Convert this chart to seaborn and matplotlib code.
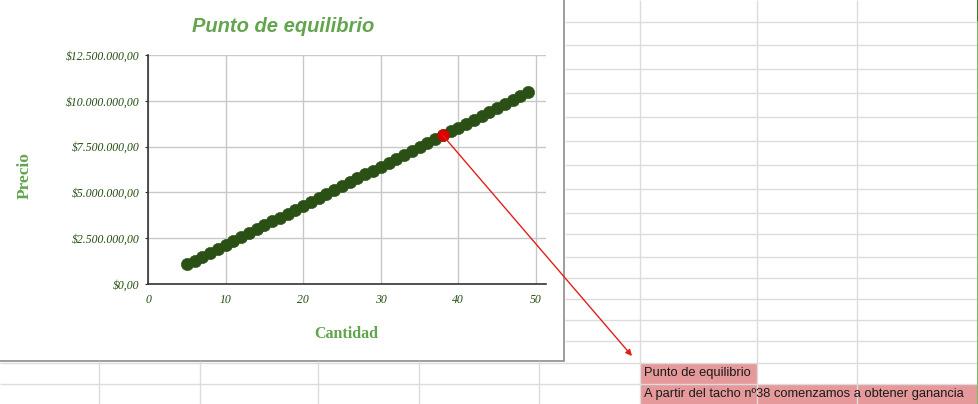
import matplotlib
matplotlib.use("Agg")
import matplotlib.pyplot as plt
from matplotlib.patches import Rectangle
import seaborn as sns
import pandas as pd

# ---- data ----
cantidad = [5, 6, 7, 8, 9, 10, 11, 12, 13, 14, 15, 16, 17, 18, 19, 20, 21, 22, 23, 24,
            25, 26, 27, 28, 29, 30, 31, 32, 33, 34, 35, 36, 37, 38, 39, 40, 41, 42, 43,
            44, 45, 46, 47, 48, 49]
precio = [1067500, 1281000, 1494500, 1708000, 1921500, 2135000, 2348500, 2562000,
          2775500, 2989000, 3202500, 3416000, 3629500, 3843000, 4056500, 4270000,
          4483500, 4697000, 4910500, 5124000, 5337500, 5551000, 5764500, 5978000,
          6191500, 6405000, 6618500, 6832000, 7045500, 7259000, 7472500, 7686000,
          7899500, 8113000, 8326500, 8540000, 8753500, 8967000, 9180500, 9394000,
          9607500, 9821000, 10034500, 10248000, 10461500]
equilibrio_cantidad = 38
equilibrio_precio = 8113000
y_ticks = [0, 2500000, 5000000, 7500000, 10000000, 12500000]
y_tick_labels = ["$0,00", "$2.500.000,00", "$5.000.000,00", "$7.500.000,00",
                 "$10.000.000,00", "$12.500.000,00"]
x_ticks = [0, 10, 20, 30, 40, 50]
x_tick_labels = ["0", "10", "20", "30", "40", "50"]
titulo = "Punto de equilibrio"
nota_1 = "Punto de equilibrio"
nota_2 = "A partir del tacho nº38 comenzamos a obtener ganancia"

sns.set_style("white")
plt.rcParams["font.family"] = ["Liberation Sans", "DejaVu Sans"]

W, H = 979, 404
fig = plt.figure(figsize=(W / 100, H / 100), dpi=100)
fig.patch.set_facecolor("white")

# ---- spreadsheet background (pixel coordinates) ----
bg = fig.add_axes([0, 0, 1, 1], zorder=0)
bg.set_xlim(0, W)
bg.set_ylim(H, 0)
bg.axis("off")
grid_c = "#dcdcdc"
rows_right = [22, 45, 69, 93, 117, 141, 165, 189, 213, 234, 257, 278, 299, 320, 341]
for yy in rows_right:
    bg.plot([565, 978], [yy, yy], color=grid_c, lw=1.0, solid_capstyle="butt")
for yy in [362.5, 383.5]:
    bg.plot([0, 978], [yy, yy], color=grid_c, lw=1.0, solid_capstyle="butt")
for xx in [640, 757, 857]:
    bg.plot([xx, xx], [0, H], color=grid_c, lw=1.0, solid_capstyle="butt")
for xx in [99, 200, 318, 419, 539]:
    bg.plot([xx, xx], [361, H], color=grid_c, lw=1.0, solid_capstyle="butt")
bg.plot([978, 978], [0, 22], color="#3a7a28", lw=1.5)
bg.plot([978, 978], [22, H], color="#7dbb6a", lw=1.5)

# chart area
bg.add_patch(Rectangle((-2, -2), 566.5, 362.5, facecolor="white", edgecolor="#8c8c8c", lw=1.2))

# note boxes
box_c = "#e6999b"
bg.add_patch(Rectangle((640, 362.5), 117, 21, facecolor=box_c, edgecolor="none"))
bg.add_patch(Rectangle((640, 383.5), 338, 21, facecolor=box_c, edgecolor="none"))
bg.text(644, 373, nota_1, fontsize=9.3, color="#1a1a1a", va="center", ha="left",
        family=["Liberation Sans", "DejaVu Sans"])
bg.text(644, 394, nota_2, fontsize=9.3, color="#1a1a1a", va="center", ha="left",
        family=["Liberation Sans", "DejaVu Sans"])

# chart title
bg.text(283, 27, titulo, fontsize=14.5, fontweight="bold", fontstyle="italic",
        color="#63a54e", ha="center", va="center",
        family=["Liberation Sans", "DejaVu Sans"])

# ---- chart axes ----
L, R, T, B = 148, 546, 55, 284
ax = fig.add_axes([L / W, (H - B) / H, (R - L) / W, (B - T) / H], zorder=1)
ax.set_facecolor("white")

df = pd.DataFrame({"Cantidad": cantidad, "Precio": precio})
sns.scatterplot(data=df, x="Cantidad", y="Precio", ax=ax, s=78, color="#2a5016",
                edgecolor="#2a5016", linewidth=0.4, zorder=3)
df_eq = pd.DataFrame({"Cantidad": [equilibrio_cantidad], "Precio": [equilibrio_precio]})
sns.scatterplot(data=df_eq, x="Cantidad", y="Precio", ax=ax, s=70, color="#dd0000",
                edgecolor="#dd0000", linewidth=0.4, zorder=4)

ax.set_xlim(0, 51.3)
ax.set_ylim(0, 12500000)
ax.set_xticks(x_ticks)
ax.set_xticklabels(x_tick_labels)
ax.set_yticks(y_ticks)
ax.set_yticklabels(y_tick_labels)
ax.grid(True, color="#c8c8c8", lw=1.0)
ax.set_axisbelow(True)
for s in ["top", "right"]:
    ax.spines[s].set_visible(False)
for s in ["left", "bottom"]:
    ax.spines[s].set_color("#333333")
    ax.spines[s].set_linewidth(1.2)
tick_family = ["Liberation Serif", "DejaVu Serif"]
ax.tick_params(axis="both", colors="#333333", labelcolor="#274e13", length=2.5,
               width=0.8, direction="out", left=True, bottom=False)
ax.tick_params(axis="y", pad=3.5)
ax.tick_params(axis="x", pad=5)
for lab in ax.get_xticklabels() + ax.get_yticklabels():
    lab.set_fontfamily(tick_family)
    lab.set_fontstyle("italic")
    lab.set_fontsize(8.5)

ax.set_ylabel("Precio", family=["Liberation Serif", "DejaVu Serif"], fontweight="bold",
              fontsize=12.5, color="#63a54e")
ax.set_xlabel("Cantidad", family=["Liberation Serif", "DejaVu Serif"], fontweight="bold",
              fontsize=11.5, color="#63a54e")
ax.yaxis.set_label_coords((33 - L) / (R - L), (B - 176) / (B - T))
ax.xaxis.set_label_coords((346 - L) / (R - L), (B - 326) / (B - T))

# arrow from equilibrium point to note
ax.annotate("", xy=(632, 356), xycoords=bg.transData,
            xytext=(equilibrio_cantidad, equilibrio_precio), textcoords="data",
            arrowprops=dict(arrowstyle="-|>", color="#e0201c", lw=1.0,
                            mutation_scale=9, shrinkA=0, shrinkB=0),
            annotation_clip=False, zorder=5)

fig.savefig("out.png", dpi=100, facecolor="white")
